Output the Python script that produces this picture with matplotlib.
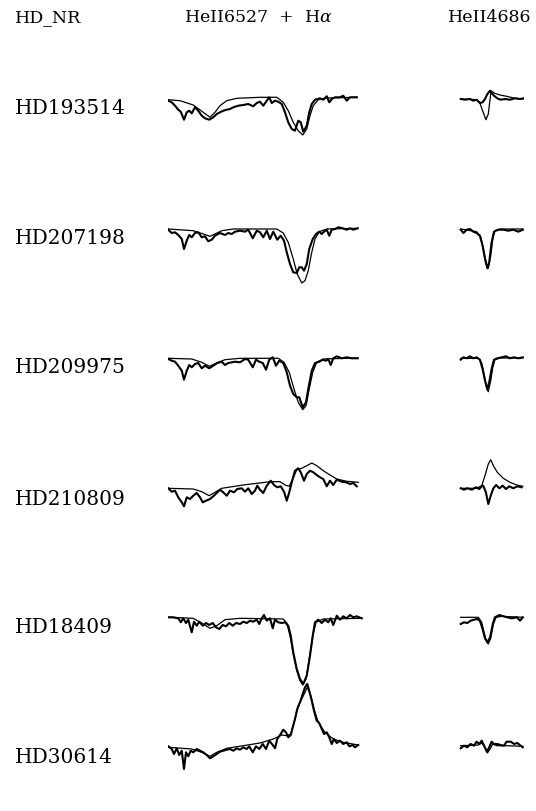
import matplotlib
matplotlib.use("Agg")
import matplotlib.pyplot as plt

# ---------------------------------------------------------------------------
# Star names (rows, top to bottom)
stars = ["HD193514", "HD207198", "HD209975", "HD210809", "HD18409", "HD30614"]
headers = ["HD_NR", "HeII6527  +  H$\\alpha$", "HeII4686"]

# ---------------------------------------------------------------------------
# H-alpha + HeII 6527 region: wavelength [A] and normalised flux
# observed (thick) and model (thin) for each star

ha_obs_wl_193514 = [6510.1, 6511.5, 6512.8, 6514.1, 6515.1, 6516.4, 6517.5, 6518.5, 6519.5, 6520.8,
                    6522.1, 6523.5, 6524.8, 6526.5, 6528.1, 6529.5, 6530.8, 6532.1, 6533.5, 6534.8,
                    6536.1, 6538.1, 6540.1, 6542.1, 6544.1, 6545.5, 6546.8, 6548.1, 6549.5, 6550.5,
                    6551.5, 6552.8, 6554.1, 6555.5, 6556.8, 6558.1, 6559.5, 6560.8, 6562.1, 6563.1,
                    6564.1, 6565.5, 6566.5, 6567.5, 6568.8, 6570.8, 6572.1, 6573.5, 6574.5, 6575.5,
                    6576.8, 6578.8, 6580.1, 6581.5, 6582.8, 6585.5]
ha_obs_fx_193514 = [0.973, 0.957, 0.923, 0.883, 0.863, 0.783, 0.857, 0.873, 0.847, 0.907,
                    0.873, 0.823, 0.797, 0.783, 0.807, 0.840, 0.857, 0.873, 0.883, 0.890,
                    0.907, 0.923, 0.930, 0.940, 0.917, 0.950, 0.963, 0.923, 0.973, 1.007,
                    0.950, 0.973, 0.963, 0.940, 0.857, 0.757, 0.690, 0.673, 0.773, 0.757,
                    0.663, 0.723, 0.857, 0.940, 0.983, 0.997, 0.983, 1.017, 0.957, 0.990,
                    1.007, 1.007, 1.023, 0.973, 1.007, 1.007]
ha_mod_wl_193514 = [6510.1, 6514.8, 6520.1, 6524.1, 6526.8, 6528.8, 6530.8, 6533.5, 6537.5, 6546.8,
                    6553.5, 6556.1, 6558.1, 6560.1, 6562.1, 6563.9, 6565.5, 6566.8, 6568.1, 6570.1,
                    6573.5, 6585.5]
ha_mod_fx_193514 = [0.983, 0.973, 0.930, 0.857, 0.807, 0.857, 0.923, 0.973, 0.997, 1.007,
                    1.007, 0.957, 0.873, 0.757, 0.673, 0.630, 0.690, 0.823, 0.923, 0.983,
                    1.000, 1.007]

ha_obs_wl_207198 = [6510.1, 6511.5, 6512.8, 6514.1, 6515.5, 6516.4, 6517.5, 6518.5, 6519.5, 6520.8,
                    6522.1, 6523.5, 6524.8, 6526.1, 6527.5, 6528.8, 6530.8, 6532.8, 6534.1, 6535.5,
                    6536.8, 6538.8, 6540.8, 6542.1, 6543.9, 6545.5, 6546.8, 6548.1, 6549.5, 6550.8,
                    6552.1, 6553.7, 6555.1, 6556.4, 6557.5, 6558.8, 6560.1, 6561.5, 6562.5, 6563.5,
                    6564.4, 6565.5, 6566.5, 6567.9, 6569.2, 6570.5, 6571.5, 6572.4, 6573.5, 6574.5,
                    6575.5, 6576.8, 6578.1, 6579.9, 6581.5, 6582.8, 6584.1, 6585.9]
ha_obs_fx_207198 = [0.983, 0.950, 0.957, 0.930, 0.890, 0.790, 0.873, 0.930, 0.907, 0.950,
                    0.957, 0.907, 0.917, 0.867, 0.883, 0.923, 0.950, 0.930, 0.950, 0.940,
                    0.963, 0.973, 0.963, 0.983, 0.897, 0.973, 0.957, 0.907, 0.973, 0.890,
                    0.963, 0.883, 0.923, 0.873, 0.757, 0.640, 0.557, 0.550, 0.607, 0.607,
                    0.573, 0.640, 0.790, 0.890, 0.940, 0.963, 0.940, 0.963, 0.983, 0.923,
                    0.983, 0.990, 1.007, 0.997, 0.983, 0.997, 0.983, 0.997]
ha_mod_wl_207198 = [6510.1, 6520.1, 6524.1, 6526.8, 6528.8, 6531.5, 6536.1, 6553.5, 6556.1, 6558.1,
                    6560.1, 6561.7, 6563.5, 6564.8, 6566.1, 6567.5, 6568.8, 6570.5, 6573.5, 6585.9]
ha_mod_fx_207198 = [0.990, 0.973, 0.940, 0.917, 0.940, 0.973, 0.990, 0.990, 0.950, 0.857,
                    0.690, 0.540, 0.450, 0.473, 0.573, 0.757, 0.890, 0.963, 0.990, 0.997]

ha_obs_wl_209975 = [6510.1, 6511.5, 6512.8, 6514.1, 6515.5, 6516.4, 6517.5, 6518.5, 6519.5, 6520.8,
                    6522.1, 6523.5, 6524.8, 6526.5, 6528.1, 6529.7, 6531.5, 6532.8, 6534.1, 6535.5,
                    6536.8, 6538.8, 6540.8, 6542.1, 6543.9, 6545.2, 6546.5, 6547.9, 6549.2, 6550.5,
                    6551.9, 6553.2, 6554.5, 6556.1, 6557.5, 6558.8, 6560.1, 6561.5, 6562.5, 6563.9,
                    6565.2, 6566.1, 6567.5, 6568.8, 6570.5, 6571.9, 6573.2, 6574.1, 6575.1, 6576.1,
                    6577.5, 6579.5, 6581.5, 6583.5, 6585.9]
ha_obs_fx_209975 = [0.980, 0.963, 0.953, 0.913, 0.863, 0.773, 0.863, 0.920, 0.897, 0.930,
                    0.940, 0.887, 0.913, 0.887, 0.913, 0.940, 0.953, 0.920, 0.940, 0.947,
                    0.953, 0.947, 0.980, 0.973, 0.897, 0.973, 0.953, 0.940, 0.873, 0.973,
                    0.997, 0.913, 0.963, 0.940, 0.847, 0.713, 0.630, 0.597, 0.597, 0.497,
                    0.547, 0.680, 0.863, 0.940, 0.953, 0.973, 0.963, 0.980, 0.920, 0.987,
                    1.007, 0.987, 0.997, 0.987, 0.987]
ha_mod_wl_209975 = [6510.1, 6519.5, 6523.5, 6526.5, 6529.5, 6532.8, 6538.8, 6554.1, 6556.4, 6558.5,
                    6560.4, 6562.1, 6563.9, 6565.2, 6566.5, 6567.9, 6569.5, 6572.1, 6585.9]
ha_mod_fx_209975 = [0.987, 0.980, 0.947, 0.907, 0.940, 0.973, 0.987, 0.987, 0.947, 0.847,
                    0.680, 0.547, 0.473, 0.513, 0.680, 0.847, 0.947, 0.980, 0.990]

ha_obs_wl_210809 = [6510.1, 6511.5, 6512.8, 6514.1, 6515.5, 6516.4, 6517.5, 6518.8, 6520.1, 6521.5,
                    6522.8, 6523.9, 6525.2, 6526.8, 6528.1, 6529.5, 6530.8, 6532.1, 6533.5, 6534.8,
                    6536.4, 6537.7, 6539.5, 6540.8, 6542.1, 6543.5, 6544.8, 6545.7, 6546.8, 6548.1,
                    6549.5, 6551.1, 6552.4, 6553.7, 6555.1, 6556.4, 6557.5, 6558.5, 6559.5, 6560.8,
                    6562.1, 6563.1, 6564.4, 6565.5, 6566.8, 6568.1, 6569.5, 6570.8, 6572.1, 6573.5,
                    6574.8, 6576.1, 6577.5, 6579.5, 6581.2, 6582.8, 6584.1, 6585.5]
ha_obs_fx_210809 = [1.007, 0.973, 0.983, 0.917, 0.867, 0.827, 0.917, 0.900, 0.933, 0.960,
                    0.917, 0.867, 0.883, 0.900, 0.927, 0.960, 0.993, 0.967, 0.933, 0.983,
                    0.967, 1.000, 1.007, 0.973, 1.007, 0.950, 0.983, 1.033, 0.993, 0.960,
                    1.033, 1.083, 1.040, 1.017, 1.027, 0.973, 0.883, 0.967, 1.067, 1.183,
                    1.207, 1.167, 1.083, 1.150, 1.183, 1.167, 1.140, 1.117, 1.100, 1.027,
                    1.083, 1.040, 1.093, 1.073, 1.067, 1.050, 1.060, 1.027]
ha_mod_wl_210809 = [6510.1, 6520.1, 6523.5, 6526.5, 6528.8, 6531.5, 6540.1, 6550.8, 6554.8, 6556.8,
                    6558.5, 6559.9, 6561.5, 6563.5, 6565.5, 6567.5, 6569.5, 6572.1, 6574.8, 6577.5,
                    6581.5, 6586.1]
ha_mod_fx_210809 = [1.007, 1.000, 0.973, 0.933, 0.967, 1.007, 1.040, 1.073, 1.073, 1.040,
                    1.027, 1.100, 1.193, 1.207, 1.233, 1.260, 1.233, 1.183, 1.140, 1.100,
                    1.077, 1.067]

ha_obs_wl_18409 = [6510.1, 6512.1, 6514.1, 6515.1, 6516.1, 6517.2, 6518.1, 6519.5, 6520.4, 6521.5,
                   6522.5, 6523.9, 6525.2, 6526.5, 6527.9, 6529.2, 6530.5, 6531.9, 6533.2, 6534.5,
                   6535.9, 6537.2, 6538.8, 6540.1, 6541.5, 6542.8, 6544.1, 6545.5, 6546.5, 6547.5,
                   6548.4, 6549.5, 6550.8, 6551.9, 6552.8, 6554.1, 6555.5, 6556.8, 6558.1, 6559.1,
                   6560.1, 6561.5, 6562.8, 6564.1, 6565.5, 6566.8, 6567.9, 6568.8, 6570.1, 6571.5,
                   6572.8, 6574.1, 6575.1, 6576.1, 6577.5, 6578.8, 6580.1, 6581.5, 6582.8, 6584.1,
                   6585.5, 6587.5]
ha_obs_fx_18409 = [0.997, 0.997, 0.987, 0.947, 0.987, 0.940, 0.973, 0.847, 0.953, 0.913,
                   0.953, 0.913, 0.940, 0.920, 0.940, 0.897, 0.880, 0.920, 0.907, 0.940,
                   0.913, 0.940, 0.930, 0.953, 0.940, 0.963, 0.953, 0.973, 0.930, 0.987,
                   1.020, 0.963, 0.987, 0.887, 0.973, 0.947, 0.940, 0.947, 0.913, 0.813,
                   0.647, 0.480, 0.380, 0.330, 0.413, 0.613, 0.813, 0.947, 0.973, 0.940,
                   0.973, 0.947, 0.987, 0.920, 1.013, 0.973, 1.007, 0.987, 1.020, 0.997,
                   1.007, 0.987]
ha_mod_wl_18409 = [6510.1, 6520.1, 6524.1, 6526.8, 6529.5, 6532.8, 6538.8, 6556.1, 6557.5, 6558.8,
                   6560.1, 6561.5, 6562.8, 6563.9, 6565.2, 6566.5, 6567.9, 6569.2, 6572.1, 6587.5]
ha_mod_fx_18409 = [0.997, 0.987, 0.930, 0.887, 0.913, 0.973, 0.987, 0.980, 0.940, 0.813,
                   0.630, 0.463, 0.363, 0.320, 0.380, 0.580, 0.813, 0.947, 0.980, 0.987]

ha_obs_wl_30614 = [6510.1, 6511.5, 6512.4, 6513.5, 6514.5, 6515.5, 6516.4, 6517.2, 6518.1, 6519.1,
                   6520.1, 6521.5, 6522.8, 6524.1, 6525.5, 6526.8, 6528.1, 6529.5, 6530.8, 6532.1,
                   6533.5, 6534.8, 6536.1, 6537.5, 6538.8, 6540.1, 6541.5, 6542.5, 6543.9, 6545.2,
                   6546.5, 6547.9, 6549.2, 6550.5, 6551.9, 6552.8, 6553.7, 6555.1, 6556.1, 6557.2,
                   6558.1, 6559.1, 6559.9, 6560.8, 6561.7, 6562.8, 6563.9, 6564.8, 6565.7, 6566.5,
                   6567.5, 6568.4, 6569.5, 6570.5, 6571.5, 6572.4, 6573.5, 6574.5, 6575.5, 6576.4,
                   6577.5, 6578.8, 6580.1, 6581.5, 6582.5, 6583.9, 6584.8, 6586.1]
ha_obs_fx_30614 = [1.007, 0.980, 0.930, 0.987, 0.920, 0.963, 0.780, 0.947, 0.907, 0.963,
                   0.947, 0.980, 0.963, 0.947, 0.920, 0.887, 0.907, 0.930, 0.953, 0.963,
                   0.973, 0.980, 0.963, 0.987, 0.973, 0.997, 0.980, 1.007, 0.947, 1.007,
                   0.980, 1.030, 0.980, 1.063, 1.020, 0.987, 1.080, 1.130, 1.173, 1.147,
                   1.097, 1.120, 1.197, 1.280, 1.380, 1.447, 1.530, 1.597, 1.630, 1.563,
                   1.463, 1.363, 1.263, 1.240, 1.180, 1.130, 1.147, 1.097, 1.030, 1.080,
                   1.040, 1.063, 1.030, 1.047, 1.007, 1.020, 0.997, 1.020]
ha_mod_wl_30614 = [6510.1, 6519.5, 6523.5, 6526.8, 6529.5, 6533.5, 6540.1, 6546.8, 6552.1, 6555.5,
                   6557.5, 6559.1, 6560.8, 6562.1, 6563.5, 6564.8, 6565.7, 6567.1, 6568.4, 6570.1,
                   6572.8, 6576.1, 6580.1, 6586.1]
ha_mod_fx_30614 = [0.997, 0.980, 0.947, 0.907, 0.947, 0.987, 1.013, 1.040, 1.080, 1.120,
                   1.113, 1.130, 1.280, 1.413, 1.480, 1.547, 1.597, 1.513, 1.380, 1.247,
                   1.147, 1.080, 1.047, 1.020]

# ---------------------------------------------------------------------------
# HeII 4686 region: wavelength [A] and normalised flux

he_obs_wl_193514 = [4676.9, 4678.3, 4680.0, 4681.1, 4682.2, 4683.3, 4684.2, 4685.0, 4685.8, 4686.7,
                    4687.2, 4688.0, 4689.1, 4690.2, 4691.7, 4693.3, 4695.0, 4696.7, 4697.8]
he_obs_fx_193514 = [0.990, 0.983, 0.990, 0.973, 0.983, 0.950, 0.957, 0.990, 1.040, 1.073,
                    1.050, 1.023, 0.997, 0.983, 0.990, 0.983, 0.997, 0.990, 0.997]
he_mod_wl_193514 = [4676.9, 4682.2, 4683.3, 4684.2, 4685.3, 4686.1, 4686.7, 4687.0, 4688.0, 4690.0,
                    4692.2, 4695.0, 4697.8]
he_mod_fx_193514 = [0.990, 0.983, 0.950, 0.873, 0.783, 0.840, 0.990, 1.073, 1.050, 1.030,
                    1.017, 0.997, 0.990]

he_obs_wl_207198 = [4676.9, 4677.8, 4678.9, 4680.0, 4681.1, 4682.2, 4683.3, 4684.2, 4685.0, 4685.8,
                    4686.4, 4687.2, 4688.0, 4689.4, 4691.1, 4692.8, 4694.4, 4696.1, 4697.6]
he_obs_fx_207198 = [0.983, 0.950, 0.983, 0.990, 0.963, 0.950, 0.923, 0.823, 0.690, 0.597,
                    0.657, 0.857, 0.963, 0.983, 0.983, 0.973, 0.983, 0.963, 0.983]
he_mod_wl_207198 = [4676.9, 4682.2, 4683.6, 4684.7, 4685.6, 4686.1, 4686.9, 4687.6, 4688.3, 4690.0,
                    4697.6]
he_mod_fx_207198 = [0.990, 0.963, 0.907, 0.757, 0.623, 0.597, 0.723, 0.890, 0.973, 0.990,
                    0.990]

he_obs_wl_209975 = [4676.9, 4677.8, 4678.9, 4680.0, 4681.1, 4682.2, 4683.3, 4684.2, 4685.0, 4685.8,
                    4686.4, 4687.2, 4688.0, 4689.1, 4690.6, 4692.0, 4693.3, 4694.7, 4696.1, 4697.6]
he_obs_fx_209975 = [0.973, 0.997, 0.987, 1.007, 0.987, 0.997, 0.973, 0.880, 0.763, 0.680,
                    0.747, 0.880, 0.973, 0.987, 0.997, 1.007, 0.987, 0.997, 0.987, 0.997]
he_mod_wl_209975 = [4676.9, 4682.8, 4683.9, 4684.8, 4685.6, 4686.1, 4686.9, 4687.6, 4688.3, 4690.0,
                    4697.6]
he_mod_fx_209975 = [0.987, 0.987, 0.940, 0.813, 0.680, 0.653, 0.763, 0.897, 0.973, 0.990,
                    0.990]

he_obs_wl_210809 = [4676.9, 4678.0, 4679.1, 4680.6, 4682.0, 4683.1, 4683.9, 4684.4, 4685.3, 4686.1,
                    4686.9, 4687.8, 4688.7, 4689.8, 4690.9, 4692.0, 4693.1, 4694.4, 4695.8, 4697.2]
he_obs_fx_210809 = [1.007, 0.993, 1.007, 0.993, 1.017, 1.000, 1.027, 1.033, 0.967, 0.850,
                    0.933, 1.007, 1.040, 1.007, 1.033, 1.000, 1.027, 1.007, 1.027, 1.017]
he_mod_wl_210809 = [4676.9, 4682.2, 4683.9, 4685.0, 4686.1, 4686.9, 4687.8, 4689.1, 4691.1, 4693.3,
                    4695.6, 4697.6]
he_mod_fx_210809 = [1.007, 1.007, 1.033, 1.133, 1.250, 1.293, 1.233, 1.167, 1.107, 1.067,
                    1.040, 1.027]

he_obs_wl_18409 = [4676.9, 4678.0, 4679.1, 4680.2, 4681.3, 4682.4, 4683.3, 4684.2, 4685.0, 4685.8,
                   4686.7, 4687.6, 4688.3, 4689.8, 4691.1, 4692.4, 4693.9, 4695.6, 4696.7, 4697.6]
he_obs_fx_18409 = [0.930, 0.947, 0.940, 0.963, 0.973, 0.980, 0.963, 0.880, 0.787, 0.747,
                   0.797, 0.930, 0.997, 1.020, 1.007, 0.997, 0.987, 0.997, 0.963, 0.997]
he_mod_wl_18409 = [4676.9, 4682.8, 4683.9, 4684.8, 4685.6, 4686.1, 4686.9, 4687.8, 4688.7, 4690.6,
                   4697.6]
he_mod_fx_18409 = [0.997, 0.997, 0.947, 0.830, 0.747, 0.730, 0.787, 0.930, 0.997, 1.007,
                   0.997]

he_obs_wl_30614 = [4676.9, 4678.0, 4679.1, 4680.2, 4681.3, 4682.2, 4683.1, 4683.9, 4684.7, 4685.6,
                   4686.4, 4687.2, 4688.0, 4689.1, 4690.2, 4691.3, 4692.2, 4693.6, 4694.7, 4695.8,
                   4696.9, 4697.6]
he_obs_fx_30614 = [0.987, 1.013, 0.997, 1.030, 1.013, 1.053, 1.030, 1.063, 1.013, 0.953,
                   0.997, 1.053, 1.030, 1.030, 1.020, 1.013, 1.053, 1.053, 1.030, 1.040,
                   1.013, 0.997]
he_mod_wl_30614 = [4676.9, 4682.8, 4683.9, 4685.0, 4685.8, 4686.7, 4687.6, 4688.9, 4692.2, 4697.6]
he_mod_fx_30614 = [1.013, 1.020, 1.040, 0.997, 0.940, 0.980, 1.030, 1.013, 1.013, 1.007]

# ---------------------------------------------------------------------------
ha_obs = [(ha_obs_wl_193514, ha_obs_fx_193514), (ha_obs_wl_207198, ha_obs_fx_207198),
          (ha_obs_wl_209975, ha_obs_fx_209975), (ha_obs_wl_210809, ha_obs_fx_210809),
          (ha_obs_wl_18409, ha_obs_fx_18409), (ha_obs_wl_30614, ha_obs_fx_30614)]
ha_mod = [(ha_mod_wl_193514, ha_mod_fx_193514), (ha_mod_wl_207198, ha_mod_fx_207198),
          (ha_mod_wl_209975, ha_mod_fx_209975), (ha_mod_wl_210809, ha_mod_fx_210809),
          (ha_mod_wl_18409, ha_mod_fx_18409), (ha_mod_wl_30614, ha_mod_fx_30614)]
he_obs = [(he_obs_wl_193514, he_obs_fx_193514), (he_obs_wl_207198, he_obs_fx_207198),
          (he_obs_wl_209975, he_obs_fx_209975), (he_obs_wl_210809, he_obs_fx_210809),
          (he_obs_wl_18409, he_obs_fx_18409), (he_obs_wl_30614, he_obs_fx_30614)]
he_mod = [(he_mod_wl_193514, he_mod_fx_193514), (he_mod_wl_207198, he_mod_fx_207198),
          (he_mod_wl_209975, he_mod_fx_209975), (he_mod_wl_210809, he_mod_fx_210809),
          (he_mod_wl_18409, he_mod_fx_18409), (he_mod_wl_30614, he_mod_fx_30614)]

# ---------------------------------------------------------------------------
# Layout (figure pixels)
W, H = 536, 812
cont_px = [99, 229, 358, 490, 618, 748]       # continuum level of each row
scale_px = 100.0                               # pixels per unit of normalised flux
offsets = [(H - c) / scale_px - 1.0 for c in cont_px]

plt.rcParams["mathtext.fontset"] = "dejavuserif"
fig = plt.figure(figsize=(W / 100, H / 100), dpi=100)

ax_ha = fig.add_axes([168 / W, 0, 195 / W, 1])
ax_ha.set_xlim(6510, 6588)
ax_he = fig.add_axes([458 / W, 0, 66 / W, 1])
ax_he.set_xlim(4676, 4698)
for ax in (ax_ha, ax_he):
    ax.set_ylim(0, H / scale_px)
    ax.axis("off")

for i, off in enumerate(offsets):
    for ax, obs, mod in ((ax_ha, ha_obs[i], ha_mod[i]), (ax_he, he_obs[i], he_mod[i])):
        ax.plot(mod[0], [f + off for f in mod[1]], color="black", lw=0.9,
                solid_joinstyle="round")
        ax.plot(obs[0], [f + off for f in obs[1]], color="black", lw=1.5,
                solid_joinstyle="round")

font = dict(family="DejaVu Serif", color="black")
fig.text(15 / W, 1 - 22 / H, headers[0], fontsize=12.5, ha="left", va="baseline", **font)
fig.text(258 / W, 1 - 22 / H, headers[1], fontsize=12.5, ha="center", va="baseline", **font)
fig.text(531 / W, 1 - 22 / H, headers[2], fontsize=12.5, ha="right", va="baseline", **font)

for name, c in zip(stars, cont_px):
    fig.text(15 / W, 1 - (c + 15) / H, name, fontsize=14.5, ha="left", va="baseline", **font)

fig.savefig("out.png", dpi=100)
